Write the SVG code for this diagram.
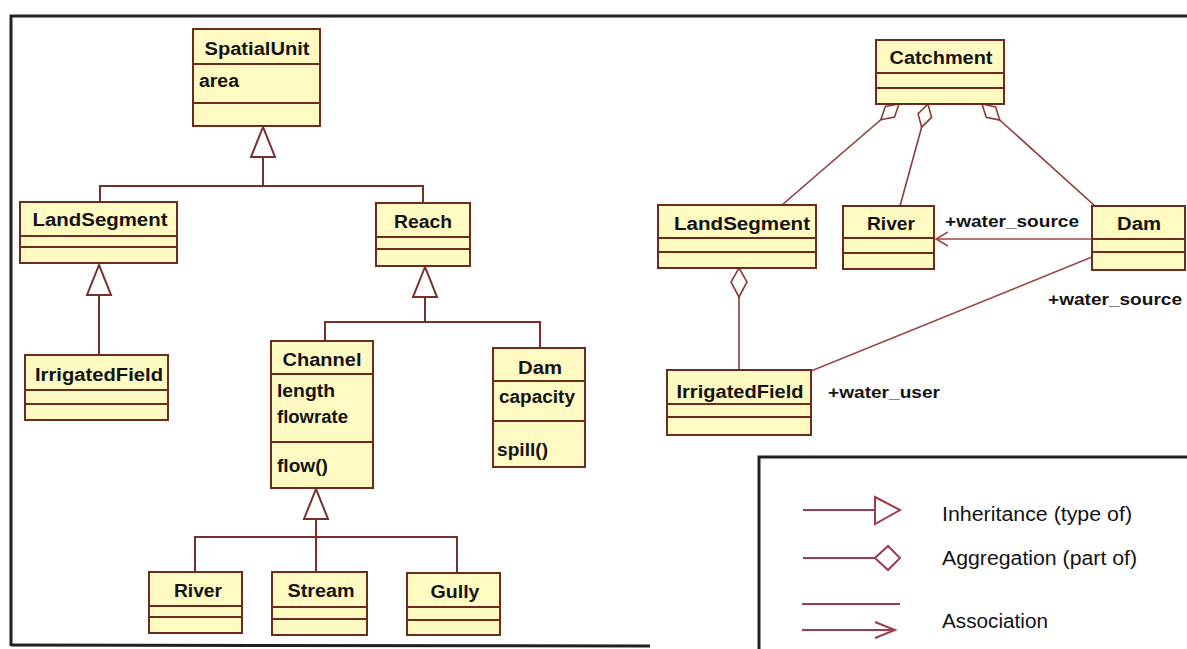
<svg xmlns="http://www.w3.org/2000/svg" width="1187" height="649" viewBox="0 0 1187 649">
  <style>
    .box { fill: #fff9c2; stroke: #6b2b1f; stroke-width: 2; }
    .sep { stroke: #6b2b1f; stroke-width: 2; }
    .name { font-family: "Liberation Sans", Arial, sans-serif; font-weight: bold; font-size: 18px; fill: #141414; text-anchor: middle; }
    .attr { font-family: "Liberation Sans", Arial, sans-serif; font-weight: bold; font-size: 18px; fill: #141414; }
    .role { font-family: "Liberation Sans", Arial, sans-serif; font-weight: bold; font-size: 17px; fill: #141414; }
    .gen { fill: none; stroke: #76302a; stroke-width: 2; }
    .agg { fill: none; stroke: #8a3a36; stroke-width: 1.6; }
    .assoc { fill: none; stroke: #9b4a46; stroke-width: 1.6; }
    .frame { fill: none; stroke: #222; stroke-width: 3; }
    .lg { fill: none; stroke: #9c3c4c; stroke-width: 2; }
    .lgfill { fill: #fff; stroke: #9c3c4c; stroke-width: 2; }
    .lgtext { font-family: "Liberation Sans", Arial, sans-serif; font-size: 20px; fill: #141414; }
  </style>
  <defs>
    <!-- hollow generalisation triangle, tip at the path end -->
    <marker id="inherit" markerUnits="userSpaceOnUse" orient="auto" refX="0" refY="0" markerWidth="40" markerHeight="30" overflow="visible">
      <path d="M0,0 L-30,-12 L-30,12 Z" fill="#fff" stroke="#76302a" stroke-width="2"/>
    </marker>
    <!-- hollow aggregation diamond at the whole end -->
    <marker id="diamond" markerUnits="userSpaceOnUse" orient="auto" refX="0" refY="0" markerWidth="30" markerHeight="20" overflow="visible">
      <path d="M0,0 L12,-7 L24,0 L12,7 Z" fill="#fff" stroke="#8a3a36" stroke-width="1.6"/>
    </marker>
    <marker id="diamondL" markerUnits="userSpaceOnUse" orient="auto" refX="0" refY="0" markerWidth="34" markerHeight="20" overflow="visible">
      <path d="M0,0 L14,-8 L29,0 L14,8 Z" fill="#fff" stroke="#8a3a36" stroke-width="1.6"/>
    </marker>
    <!-- open navigability arrow -->
    <marker id="open" markerUnits="userSpaceOnUse" orient="auto" refX="0" refY="0" markerWidth="20" markerHeight="20" overflow="visible">
      <path d="M-12,-7 L0,0 L-12,7" fill="none" stroke="#9b4a46" stroke-width="1.6"/>
    </marker>
  </defs>

  <rect width="1187" height="649" fill="#fff"/>

  <!-- page frame and legend frame -->
  <path class="frame" d="M11,646 L11,16 L1187,16"/>
  <path class="frame" d="M11,645 L650,646"/>
  <path class="frame" d="M759,649 L759,457 L1187,457" stroke-width="2.5"/>

  <!-- connectors -->
  <g id="connectors">
    <!-- class hierarchy -->
    <path class="gen" d="M100,202 L100,186 L423,186 L423,203"/>
    <path class="gen" d="M263,186 L263,127" marker-end="url(#inherit)"/>
    <path class="gen" d="M99,355 L99,265" marker-end="url(#inherit)"/>
    <path class="gen" d="M325,341 L325,322 L540,322 L540,348"/>
    <path class="gen" d="M425,322 L425,267" marker-end="url(#inherit)"/>
    <path class="gen" d="M195,572 L195,537 L457,537 L457,573"/>
    <path class="gen" d="M316,572 L316,489" marker-end="url(#inherit)"/>

    <!-- catchment composition -->
    <path class="agg" d="M899,104 L782,205" marker-start="url(#diamond)"/>
    <path class="agg" d="M928,104 L900,206" marker-start="url(#diamond)"/>
    <path class="agg" d="M982,104 L1095,206" marker-start="url(#diamond)"/>
    <path class="agg" d="M739,268 L739,370" marker-start="url(#diamondL)"/>

    <!-- water associations -->
    <path class="assoc" d="M1092,239 L936,239" marker-end="url(#open)"/>
    <path class="assoc" d="M1092,257 L811,371"/>
  </g>

  <!-- left: type hierarchy -->
  <g id="spatialunit">
    <rect class="box" x="193" y="29" width="127" height="97"/>
    <line class="sep" x1="193" y1="64" x2="320" y2="64"/>
    <line class="sep" x1="193" y1="103" x2="320" y2="103"/>
    <text class="name" x="257" y="55" textLength="105" lengthAdjust="spacingAndGlyphs">SpatialUnit</text>
    <text class="attr" x="199" y="87" textLength="40" lengthAdjust="spacingAndGlyphs">area</text>
  </g>
  <g id="landsegment-type">
    <rect class="box" x="20" y="202" width="157" height="61"/>
    <line class="sep" x1="20" y1="236" x2="177" y2="236"/>
    <line class="sep" x1="20" y1="247" x2="177" y2="247"/>
    <text class="name" x="100" y="226" textLength="135" lengthAdjust="spacingAndGlyphs">LandSegment</text>
  </g>
  <g id="reach">
    <rect class="box" x="376" y="203" width="94" height="63"/>
    <line class="sep" x1="376" y1="237" x2="470" y2="237"/>
    <line class="sep" x1="376" y1="249" x2="470" y2="249"/>
    <text class="name" x="423" y="228" textLength="58" lengthAdjust="spacingAndGlyphs">Reach</text>
  </g>
  <g id="irrigatedfield-type">
    <rect class="box" x="25" y="355" width="143" height="65"/>
    <line class="sep" x1="25" y1="390" x2="168" y2="390"/>
    <line class="sep" x1="25" y1="404" x2="168" y2="404"/>
    <text class="name" x="99" y="381" textLength="128" lengthAdjust="spacingAndGlyphs">IrrigatedField</text>
  </g>
  <g id="channel">
    <rect class="box" x="271" y="341" width="102" height="147"/>
    <line class="sep" x1="271" y1="374" x2="373" y2="374"/>
    <line class="sep" x1="271" y1="442" x2="373" y2="442"/>
    <text class="name" x="322" y="366" textLength="79" lengthAdjust="spacingAndGlyphs">Channel</text>
    <text class="attr" x="277" y="397" textLength="58" lengthAdjust="spacingAndGlyphs">length</text>
    <text class="attr" x="277" y="423" textLength="71" lengthAdjust="spacingAndGlyphs">flowrate</text>
    <text class="attr" x="277" y="472" textLength="51" lengthAdjust="spacingAndGlyphs">flow()</text>
  </g>
  <g id="dam-type">
    <rect class="box" x="493" y="348" width="92" height="119"/>
    <line class="sep" x1="493" y1="381" x2="585" y2="381"/>
    <line class="sep" x1="493" y1="421" x2="585" y2="421"/>
    <text class="name" x="540" y="374" textLength="44" lengthAdjust="spacingAndGlyphs">Dam</text>
    <text class="attr" x="499" y="403" textLength="76" lengthAdjust="spacingAndGlyphs">capacity</text>
    <text class="attr" x="497" y="456" textLength="51" lengthAdjust="spacingAndGlyphs">spill()</text>
  </g>
  <g id="river-type">
    <rect class="box" x="149" y="572" width="93" height="61"/>
    <line class="sep" x1="149" y1="606" x2="242" y2="606"/>
    <line class="sep" x1="149" y1="617" x2="242" y2="617"/>
    <text class="name" x="198" y="597" textLength="48" lengthAdjust="spacingAndGlyphs">River</text>
  </g>
  <g id="stream">
    <rect class="box" x="272" y="572" width="95" height="63"/>
    <line class="sep" x1="272" y1="607" x2="367" y2="607"/>
    <line class="sep" x1="272" y1="619" x2="367" y2="619"/>
    <text class="name" x="321" y="597" textLength="67" lengthAdjust="spacingAndGlyphs">Stream</text>
  </g>
  <g id="gully">
    <rect class="box" x="407" y="573" width="93" height="62"/>
    <line class="sep" x1="407" y1="607" x2="500" y2="607"/>
    <line class="sep" x1="407" y1="620" x2="500" y2="620"/>
    <text class="name" x="455" y="598" textLength="49" lengthAdjust="spacingAndGlyphs">Gully</text>
  </g>

  <!-- right: catchment structure -->
  <g id="catchment">
    <rect class="box" x="876" y="40" width="128" height="64"/>
    <line class="sep" x1="876" y1="73" x2="1004" y2="73"/>
    <line class="sep" x1="876" y1="88" x2="1004" y2="88"/>
    <text class="name" x="941" y="64" textLength="103" lengthAdjust="spacingAndGlyphs">Catchment</text>
  </g>
  <g id="landsegment">
    <rect class="box" x="658" y="205" width="158" height="63"/>
    <line class="sep" x1="658" y1="238" x2="816" y2="238"/>
    <line class="sep" x1="658" y1="252" x2="816" y2="252"/>
    <text class="name" x="742" y="230" textLength="136" lengthAdjust="spacingAndGlyphs">LandSegment</text>
  </g>
  <g id="river">
    <rect class="box" x="843" y="206" width="91" height="63"/>
    <line class="sep" x1="843" y1="238" x2="934" y2="238"/>
    <line class="sep" x1="843" y1="253" x2="934" y2="253"/>
    <text class="name" x="891" y="230" textLength="48" lengthAdjust="spacingAndGlyphs">River</text>
  </g>
  <g id="dam">
    <rect class="box" x="1092" y="206" width="93" height="64"/>
    <line class="sep" x1="1092" y1="239" x2="1185" y2="239"/>
    <line class="sep" x1="1092" y1="252" x2="1185" y2="252"/>
    <text class="name" x="1139" y="230" textLength="44" lengthAdjust="spacingAndGlyphs">Dam</text>
  </g>
  <g id="irrigatedfield">
    <rect class="box" x="667" y="370" width="144" height="65"/>
    <line class="sep" x1="667" y1="404" x2="811" y2="404"/>
    <line class="sep" x1="667" y1="417" x2="811" y2="417"/>
    <text class="name" x="740" y="398" textLength="127" lengthAdjust="spacingAndGlyphs">IrrigatedField</text>
  </g>

  <!-- association role names -->
  <g id="roles">
    <text class="role" x="945" y="227" textLength="134" lengthAdjust="spacingAndGlyphs">+water_source</text>
    <text class="role" x="1048" y="305" textLength="134" lengthAdjust="spacingAndGlyphs">+water_source</text>
    <text class="role" x="828" y="398" textLength="112" lengthAdjust="spacingAndGlyphs">+water_user</text>
  </g>

  <!-- legend -->
  <g id="legend">
    <line class="lg" x1="803" y1="510" x2="875" y2="510"/>
    <polygon class="lgfill" points="875,497 900,510 875,524"/>
    <line class="lg" x1="803" y1="558" x2="875" y2="558"/>
    <polygon class="lgfill" points="875,558 888,546 900,558 888,570"/>
    <line class="lg" x1="802" y1="604" x2="900" y2="604"/>
    <line class="lg" x1="802" y1="630" x2="895" y2="630"/>
    <polyline class="lg" points="875,622 895,630 875,638"/>
    <text class="lgtext" x="942" y="521" textLength="190" lengthAdjust="spacingAndGlyphs">Inheritance (type of)</text>
    <text class="lgtext" x="942" y="565" textLength="195" lengthAdjust="spacingAndGlyphs">Aggregation (part of)</text>
    <text class="lgtext" x="942" y="628" textLength="106" lengthAdjust="spacingAndGlyphs">Association</text>
  </g>
</svg>
